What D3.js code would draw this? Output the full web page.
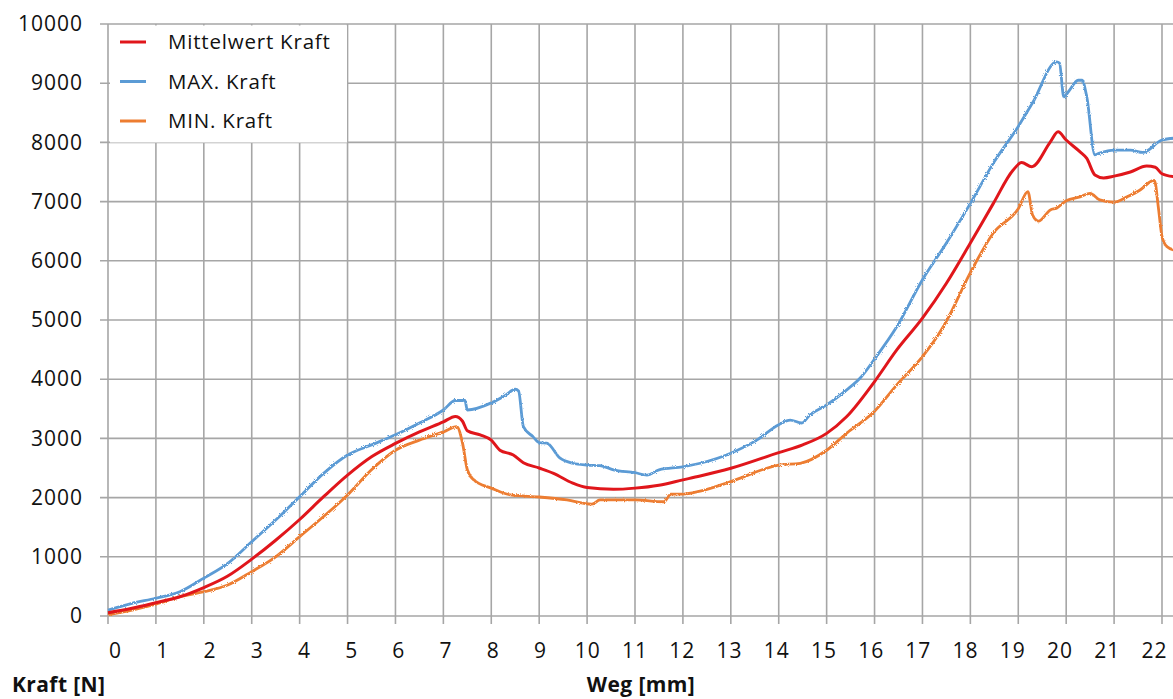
<!DOCTYPE html>
<html>
<head>
<meta charset="utf-8">
<script src="https://cdn.jsdelivr.net/npm/d3@7"></script>
<style>
  body { margin: 0; background: #fff; }
  text { font-family: "Open Sans", sans-serif; fill: #111; }
</style>
</head>
<body>
<div id="chart"></div>
<script>
// Données (Weg en mm, Kraft en N)
const wegMittel = [0, 0.5, 1, 1.5, 2, 2.5, 3, 3.5, 4, 4.5, 5, 5.5, 6, 6.5, 7, 7.25, 7.4, 7.5, 7.77, 8, 8.18, 8.46, 8.67, 9, 9.3, 9.7, 10, 10.55, 11, 11.5, 12, 12.36, 13, 14, 14.5, 15, 15.42, 16, 16.46, 17, 17.5, 18, 18.48, 18.89, 19.07, 19.28, 19.67, 19.83, 20, 20.29, 20.43, 20.6, 20.78, 21, 21.34, 21.68, 21.86, 22, 22.25];
const kraftMittel = [55, 130, 225, 325, 480, 675, 960, 1280, 1630, 2015, 2380, 2690, 2915, 3110, 3280, 3370, 3290, 3130, 3060, 2970, 2800, 2720, 2590, 2500, 2410, 2245, 2170, 2140, 2160, 2210, 2300, 2365, 2495, 2760, 2890, 3085, 3370, 3960, 4490, 5030, 5620, 6300, 6970, 7530, 7660, 7590, 8010, 8180, 8040, 7840, 7730, 7450, 7400, 7430, 7500, 7600, 7580, 7470, 7420];

const wegMax = [0, 0.5, 1, 1.5, 2, 2.5, 3, 3.5, 4, 4.5, 5, 5.5, 6, 6.5, 7, 7.25, 7.45, 7.5, 8, 8.3, 8.5, 8.57, 8.67, 8.87, 9, 9.16, 9.43, 9.7, 10, 10.27, 10.55, 11, 11.25, 11.5, 12, 12.36, 13, 13.54, 14, 14.24, 14.48, 14.65, 15, 15.42, 15.7, 16, 16.46, 17, 17.5, 18, 18.48, 19, 19.3, 19.8, 19.86, 19.95, 20.05, 20.25, 20.33, 20.43, 20.6, 20.7, 21, 21.34, 21.6, 22, 22.25];
const kraftMax = [100, 215, 300, 410, 640, 890, 1255, 1620, 2015, 2410, 2720, 2890, 3060, 3260, 3480, 3640, 3640, 3480, 3600, 3730, 3830, 3800, 3200, 3030, 2930, 2920, 2670, 2580, 2550, 2540, 2470, 2420, 2380, 2470, 2520, 2580, 2750, 2970, 3230, 3310, 3260, 3395, 3565, 3820, 4020, 4340, 4880, 5680, 6300, 6970, 7650, 8270, 8670, 9360, 9340, 8770, 8860, 9050, 9050, 8770, 7790, 7820, 7870, 7870, 7830, 8040, 8070];

const wegMin = [0, 0.5, 1, 1.5, 2, 2.5, 3, 3.5, 4, 4.5, 5, 5.5, 6, 6.5, 7, 7.28, 7.4, 7.5, 7.63, 8, 8.4, 9, 9.58, 10.1, 10.27, 11, 11.6, 11.75, 12, 12.36, 13, 14, 14.45, 15, 15.42, 16, 16.46, 17, 17.37, 17.5, 18, 18.48, 19, 19.2, 19.3, 19.42, 19.67, 19.8, 20, 20.29, 20.5, 20.7, 21, 21.27, 21.55, 21.79, 21.84, 21.93, 22, 22.1, 22.25];
const kraftMin = [20, 100, 200, 325, 410, 525, 750, 1000, 1340, 1680, 2045, 2470, 2800, 2970, 3110, 3200, 2920, 2470, 2300, 2160, 2045, 2010, 1960, 1890, 1960, 1960, 1930, 2060, 2060, 2110, 2270, 2550, 2580, 2800, 3090, 3460, 3900, 4380, 4800, 4980, 5800, 6470, 6880, 7170, 6770, 6670, 6860, 6890, 7015, 7080, 7140, 7030, 6990, 7080, 7200, 7350, 7360, 6860, 6410, 6240, 6180];

const xTicks = d3.range(0, 23);
const yTicks = d3.range(0, 10001, 1000);
const seriesNames = ["Mittelwert Kraft", "MAX. Kraft", "MIN. Kraft"];
const seriesColors = ["#e0161b", "#5b9bd5", "#ed7d31"];

const width = 1173, height = 699;
const gridColor = "#a6a6a6";

const svg = d3.select("#chart")
  .append("svg")
  .attr("width", width)
  .attr("height", height);

const x = d3.scaleLinear().domain([0, 22]).range([108, 1162]);
// les étiquettes de l'axe X sont un peu resserrées (comme dans Excel)
const xLabel = d3.scaleLinear().domain([0, 22]).range([115, 1154]);
const y = d3.scaleLinear().domain([0, 10000]).range([616, 24]);

// Filtre pour l'aspect bruité des mesures
const defs = svg.append("defs");
const f = defs.append("filter").attr("id", "rough")
  .attr("x", "-2%").attr("y", "-2%").attr("width", "104%").attr("height", "104%");
f.append("feTurbulence").attr("type", "fractalNoise").attr("baseFrequency", 0.9).attr("numOctaves", 1).attr("seed", 3).attr("result", "n");
f.append("feDisplacementMap").attr("in", "SourceGraphic").attr("in2", "n").attr("scale", 3);

// Grille horizontale
svg.append("g")
  .selectAll("line")
  .data(yTicks)
  .join("line")
  .attr("x1", 100).attr("x2", width)
  .attr("y1", d => y(d)).attr("y2", d => y(d))
  .attr("stroke", gridColor).attr("stroke-width", 1.6);

// Grille verticale
svg.append("g")
  .selectAll("line")
  .data(xTicks)
  .join("line")
  .attr("x1", d => x(d)).attr("x2", d => x(d))
  .attr("y1", y(10000)).attr("y2", 624)
  .attr("stroke", gridColor).attr("stroke-width", 1.6);

// Axes (étiquettes seulement)
const yAxis = svg.append("g")
  .attr("transform", "translate(108,0)")
  .call(d3.axisLeft(y).tickValues(yTicks).tickFormat(d3.format("d")).tickSize(8).tickPadding(17));
yAxis.select(".domain").remove();
yAxis.selectAll("line").remove();
yAxis.selectAll("text").attr("font-size", 21).attr("font-family", "Open Sans").attr("fill", "#111").attr("letter-spacing", 1);

const xAxis = svg.append("g")
  .attr("transform", "translate(0,616)")
  .call(d3.axisBottom(xLabel).tickValues(xTicks).tickSize(8).tickPadding(19));
xAxis.select(".domain").remove();
xAxis.selectAll("line").remove();
xAxis.selectAll("text").attr("font-size", 21).attr("font-family", "Open Sans").attr("fill", "#111").attr("letter-spacing", 1);

// Courbes
const line = d3.line()
  .curve(d3.curveMonotoneX)
  .x(d => x(d[0]))
  .y(d => y(d[1]));

const series = [
  d3.zip(wegMittel, kraftMittel),
  d3.zip(wegMax, kraftMax),
  d3.zip(wegMin, kraftMin)
];

// ordre de dessin : MIN, MAX puis Mittelwert au-dessus
[2, 1, 0].forEach(i => {
  svg.append("path")
    .datum(series[i])
    .attr("fill", "none")
    .attr("stroke", seriesColors[i])
    .attr("stroke-width", i === 0 ? 3 : 2.8)
    .attr("stroke-linejoin", "round")
    .attr("filter", i === 0 ? null : "url(#rough)")
    .attr("d", line);
});

// Légende
svg.append("rect")
  .attr("x", 110).attr("y", 25.5)
  .attr("width", 237).attr("height", 117)
  .attr("fill", "#fff");

const legend = svg.append("g")
  .selectAll("g")
  .data(seriesNames)
  .join("g")
  .attr("transform", (d, i) => "translate(120," + (42 + i * 39.5) + ")");

legend.append("line")
  .attr("x1", 0).attr("x2", 26)
  .attr("stroke", (d, i) => seriesColors[i])
  .attr("stroke-width", 3);

legend.append("text")
  .attr("x", 48).attr("dy", "0.36em")
  .attr("font-size", 20.5)
  .attr("letter-spacing", 0.8)
  .text(d => d);

// Titres des axes
svg.append("text")
  .attr("x", 12).attr("y", 692)
  .attr("font-size", 21).attr("font-weight", "bold")
  .attr("letter-spacing", 0.4)
  .text("Kraft [N]");

svg.append("text")
  .attr("x", 641).attr("y", 692)
  .attr("text-anchor", "middle")
  .attr("font-size", 21).attr("font-weight", "bold")
  .attr("letter-spacing", 0.4)
  .text("Weg [mm]");
</script>
</body>
</html>
